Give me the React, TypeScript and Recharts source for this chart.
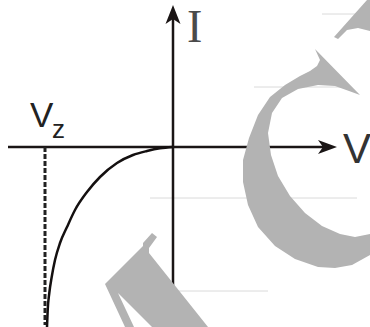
import React from 'react'
import { ComposedChart, XAxis, YAxis, Line, Scatter } from 'recharts'

// V-I characteristic of a zener diode; origin at the axis crossing, 1 unit = 1 px
const reverseCurve = [
  { x: -126, y: -180 },
  { x: -125.3, y: -163 },
  { x: -123.7, y: -146 },
  { x: -121.3, y: -130 },
  { x: -118, y: -113 },
  { x: -113, y: -96 },
  { x: -106, y: -80 },
  { x: -98, y: -63 },
  { x: -86, y: -45 },
  { x: -73, y: -30 },
  { x: -56, y: -16 },
  { x: -40, y: -8 },
  { x: -26, y: -4 },
  { x: -13, y: -1.3 },
  { x: 0, y: 0 },
]

const zenerMark = [
  { x: -128, y: 0 },
  { x: -128, y: -178 },
]

const vAxis = [
  { x: -165, y: 0 },
  { x: 152, y: 0 },
]
const iAxis = [
  { x: 0, y: -176 },
  { x: 0, y: 130 },
]
const vTip = [{ x: 164, y: 0 }]
const iTip = [{ x: 0, y: 142 }]

const iLabel = [{ x: 14, y: 105, text: 'I' }]
const vLabel = [{ x: 170, y: -16, text: 'V' }]
const vzLabel = [{ x: -143, y: 20, text: 'V' }]
const vzSub = [{ x: -121, y: 9, text: 'z' }]

// faint background rules
const rule1 = [{ x: 149, y: 133 }, { x: 182, y: 133 }]
const rule2 = [{ x: 81, y: 60 }, { x: 172, y: 60 }]
const rule3 = [{ x: -23, y: -51 }, { x: 184, y: -51 }]
const rule4 = [{ x: -8, y: -144 }, { x: 95, y: -144 }]

// watermark outlines
const markC = [
  { x: 142, y: 98 }, { x: 147, y: 87 }, { x: 144, y: 81 }, { x: 137, y: 76 },
  { x: 127, y: 71 }, { x: 112, y: 62 }, { x: 97, y: 50 }, { x: 85, y: 32 },
  { x: 76, y: 9 }, { x: 70, y: -13 }, { x: 70, y: -35 }, { x: 75, y: -58 },
  { x: 85, y: -80 }, { x: 102, y: -99 }, { x: 122, y: -112 }, { x: 145, y: -120 },
  { x: 162, y: -121 }, { x: 179, y: -118 }, { x: 197, y: -108 }, { x: 197, y: -87 },
  { x: 182, y: -90 }, { x: 167, y: -87 }, { x: 149, y: -79 }, { x: 132, y: -66 },
  { x: 117, y: -49 }, { x: 105, y: -29 }, { x: 98, y: -8 }, { x: 95, y: 14 },
  { x: 99, y: 34 }, { x: 109, y: 49 }, { x: 125, y: 58 }, { x: 145, y: 62 },
  { x: 162, y: 61 }, { x: 176, y: 56 }, { x: 187, y: 52 },
]
const markTop = [
  { x: 161, y: 110 }, { x: 194, y: 147 }, { x: 197, y: 147 }, { x: 197, y: 116 },
  { x: 185, y: 119 }, { x: 174, y: 117 }, { x: 165, y: 108 },
]
const markBottom = [
  { x: -68, y: -137 }, { x: -30, y: -99 }, { x: -30, y: -96 }, { x: -21, y: -86 },
  { x: -16, y: -90 }, { x: -24, y: -101 }, { x: -24, y: -106 }, { x: 35, y: -180 },
  { x: -21, y: -180 }, { x: -55, y: -146 }, { x: -39, y: -180 }, { x: -48, y: -180 },
]

const AXIS = '#1a1515'
const WATERMARK = '#b3b3b3'
const RULE = '#dadada'

const Nothing = () => <g />

const rightArrow = (p: any) => (
  <polygon
    points={`${p.cx},${p.cy} ${p.cx - 19},${p.cy - 7} ${p.cx - 14},${p.cy} ${p.cx - 19},${p.cy + 7}`}
    fill={AXIS}
  />
)
const upArrow = (p: any) => (
  <polygon
    points={`${p.cx},${p.cy} ${p.cx - 7.5},${p.cy + 19} ${p.cx},${p.cy + 14} ${p.cx + 7.5},${p.cy + 19}`}
    fill={AXIS}
  />
)

const textShape = (style: any) => (p: any) => (
  <text x={p.cx} y={p.cy} {...style}>
    {p.payload.text}
  </text>
)

const sans = '"Liberation Sans", Arial, sans-serif'

export default function App() {
  const poly = (data: any[], fill: string) => (
    <Scatter
      data={data}
      line={{ fill, stroke: 'none' }}
      lineType="joint"
      shape={Nothing}
      isAnimationActive={false}
    />
  )
  const seg = (data: any[], stroke: string, width: number, dash?: string) => (
    <Line
      data={data}
      dataKey="y"
      type="linear"
      stroke={stroke}
      strokeWidth={width}
      strokeDasharray={dash}
      dot={false}
      activeDot={false}
      isAnimationActive={false}
    />
  )

  return (
    <div style={{ position: 'absolute', left: 0, top: 0, background: '#fff' }}>
      <ComposedChart width={370} height={327} margin={{ top: 0, right: 0, bottom: 0, left: 0 }}>
        <XAxis type="number" dataKey="x" domain={[-173, 197]} allowDataOverflow hide />
        <YAxis type="number" dataKey="y" domain={[-180, 147]} allowDataOverflow hide />

        {seg(rule1, RULE, 1)}
        {seg(rule2, RULE, 1)}
        {seg(rule3, RULE, 1)}
        {seg(rule4, RULE, 1)}

        {poly(markC, WATERMARK)}
        {poly(markTop, WATERMARK)}
        {poly(markBottom, WATERMARK)}

        {seg(vAxis, AXIS, 2.5)}
        {seg(iAxis, AXIS, 2.5)}
        {seg(zenerMark, '#222', 3, '5 2')}

        <Line
          data={reverseCurve}
          dataKey="y"
          type="monotone"
          stroke="#141010"
          strokeWidth={2.5}
          dot={false}
          activeDot={false}
          isAnimationActive={false}
        />

        <Scatter data={vTip} shape={rightArrow} isAnimationActive={false} />
        <Scatter data={iTip} shape={upArrow} isAnimationActive={false} />

        <Scatter
          data={iLabel}
          shape={textShape({ fontFamily: '"Liberation Serif", "Times New Roman", serif', fontSize: 46, fill: '#4a4a4a' })}
          isAnimationActive={false}
        />
        <Scatter
          data={vLabel}
          shape={textShape({ fontFamily: sans, fontSize: 42, fill: '#333' })}
          isAnimationActive={false}
        />
        <Scatter
          data={vzLabel}
          shape={textShape({ fontFamily: sans, fontSize: 35, fill: '#222' })}
          isAnimationActive={false}
        />
        <Scatter
          data={vzSub}
          shape={textShape({ fontFamily: sans, fontSize: 26, fill: '#222' })}
          isAnimationActive={false}
        />
      </ComposedChart>
    </div>
  )
}
